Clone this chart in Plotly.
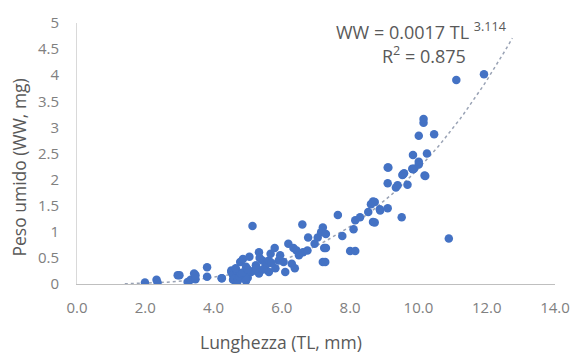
import numpy as np
import plotly.graph_objects as go

# Total length (TL, mm) and wet weight (WW, mg) of each specimen
tl = [
    1.99, 2.33, 2.36, 2.95, 3.0, 3.24, 3.33, 3.43, 3.47, 3.47, 3.81, 3.81, 4.24, 4.24,
    4.52, 4.52, 4.57, 4.57, 4.62, 4.67, 4.70, 4.72, 4.76, 4.78, 4.80, 4.86, 4.90, 4.95,
    5.00, 5.05, 5.10, 5.14, 5.19, 5.24, 5.33, 5.33, 5.43, 5.53, 5.62, 5.62, 5.67, 5.79,
    5.81, 5.91, 6.05, 6.10, 6.19, 6.29, 6.34, 6.38, 6.43, 6.60, 6.62, 6.75, 6.77, 6.96,
    7.05, 7.15, 7.20, 7.20, 7.24, 7.27, 7.29, 7.29, 7.64, 7.77, 8.00, 8.10, 8.15, 8.15,
    8.29, 8.53, 8.61, 8.67, 8.67, 8.72, 8.72, 8.87, 8.88, 9.10, 9.10, 9.10, 9.12, 9.34,
    9.39, 9.51, 9.53, 9.55, 9.58, 9.68, 9.82, 9.84, 9.84, 9.87, 10.01, 10.01, 10.01,
    10.15, 10.15, 10.18, 10.20, 10.25, 10.46, 10.89, 11.11, 11.92,
    4.65, 4.85, 5.00, 5.25, 5.45, 5.70, 5.95, 6.50, 4.95, 5.35,
]
ww = [
    0.03, 0.08, 0.03, 0.17, 0.17, 0.04, 0.08, 0.20, 0.09, 0.17, 0.32, 0.14, 0.11, 0.11,
    0.26, 0.23, 0.08, 0.17, 0.10, 0.26, 0.05, 0.08, 0.14, 0.42, 0.20, 0.48, 0.17, 0.33,
    0.12, 0.52, 0.23, 1.11, 0.26, 0.36, 0.61, 0.20, 0.45, 0.36, 0.45, 0.23, 0.58, 0.69,
    0.30, 0.45, 0.42, 0.23, 0.77, 0.39, 0.69, 0.30, 0.64, 1.14, 0.61, 0.64, 0.89, 0.77,
    0.89, 0.99, 1.08, 0.42, 0.69, 0.42, 0.96, 0.69, 1.32, 0.92, 0.63, 1.05, 0.63, 1.22,
    1.28, 1.38, 1.53, 1.58, 1.19, 1.57, 1.18, 1.43, 1.41, 1.93, 1.45, 2.23, 2.23, 1.85,
    1.89, 1.28, 2.09, 2.10, 2.12, 1.90, 2.21, 2.47, 2.20, 2.21, 2.84, 2.34, 2.29,
    3.16, 3.09, 2.08, 2.07, 2.50, 2.87, 0.87, 3.91, 4.02,
    0.30, 0.22, 0.28, 0.30, 0.28, 0.40, 0.55, 0.55, 0.06, 0.50,
]

# Power-law fit reported in the chart: WW = a * TL^b
fit_a = 0.0017
fit_b = 3.114
fit_r2 = 0.875
fit_x = np.linspace(1.4, 12.75, 120)
fit_y = fit_a * fit_x ** fit_b

x_ticks = [0, 2, 4, 6, 8, 10, 12, 14]
y_ticks = [0, 0.5, 1, 1.5, 2, 2.5, 3, 3.5, 4, 4.5, 5]

grey_text = "#595959"
tick_grey = "#808080"
font_family = "Open Sans, DejaVu Sans, sans-serif"

fig = go.Figure()
fig.add_trace(go.Scatter(
    x=fit_x, y=fit_y, mode="lines",
    line=dict(color="#9aa3b5", width=1.5, dash="dot"),
    hoverinfo="skip", showlegend=False,
))
fig.add_trace(go.Scatter(
    x=tl, y=ww, mode="markers",
    marker=dict(color="#4472C4", size=8.5, line=dict(width=0)),
    showlegend=False,
))

fig.update_layout(
    width=582, height=356,
    margin=dict(l=77, r=16, t=19, b=72),
    paper_bgcolor="white", plot_bgcolor="white",
    font=dict(family=font_family, color=grey_text, size=15),
)
fig.update_xaxes(
    range=[0, 14], tickvals=x_ticks,
    ticktext=[f"{v:.1f}" for v in x_ticks],
    showgrid=False, zeroline=False,
    showline=True, linecolor="#bfbfbf", linewidth=1,
    ticks="", ticklabelstandoff=10,
    tickfont=dict(size=15, color=tick_grey),
)
fig.update_yaxes(
    range=[0, 5], tickvals=y_ticks,
    ticktext=[f"{v:g}" for v in y_ticks],
    showgrid=False, zeroline=False,
    showline=True, linecolor="#d9d9d9", linewidth=1,
    ticks="", ticklabelstandoff=14,
    tickfont=dict(size=15, color=tick_grey),
)

fig.add_annotation(
    text="Lunghezza (TL, mm)", xref="paper", yref="paper",
    x=0.427, y=-0.222, xanchor="center", yanchor="middle", showarrow=False,
    font=dict(size=17.5, color=grey_text),
)
fig.add_annotation(
    text="Peso umido (WW, mg)", xref="paper", yref="paper",
    x=-0.122, y=0.445, xanchor="center", yanchor="middle",
    textangle=-90, showarrow=False,
    font=dict(size=17.5, color=grey_text),
)
fig.add_annotation(
    text=f"WW = {fit_a} TL <sup>{fit_b}</sup>", xref="paper", yref="paper",
    x=0.538, y=0.970, xanchor="left", yanchor="middle", showarrow=False,
    font=dict(size=18, color=grey_text),
)
fig.add_annotation(
    text=f"R<sup>2</sup> = {fit_r2}", xref="paper", yref="paper",
    x=0.634, y=0.879, xanchor="left", yanchor="middle", showarrow=False,
    font=dict(size=18, color=grey_text),
)

fig.write_html("out.html")
